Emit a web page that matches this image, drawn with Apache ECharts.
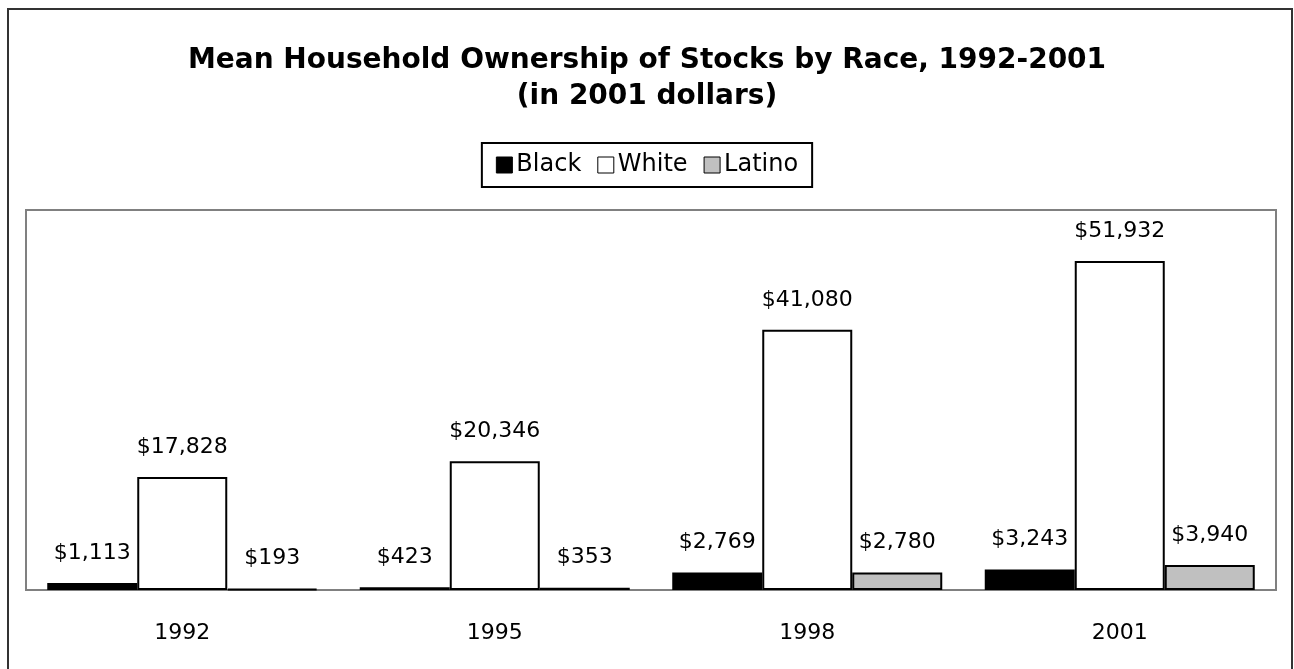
<!DOCTYPE html>
<html>
<head>
<meta charset="utf-8">
<script src="https://cdn.jsdelivr.net/npm/echarts@6/dist/echarts.min.js"></script>
<style>
html,body{margin:0;padding:0;background:#fff;}
#chart{width:1294px;height:669px;}
</style>
</head>
<body>
<div id="chart"></div>
<script>
var categories = ['1992', '1995', '1998', '2001'];
var black = [1113, 423, 2769, 3243];
var white = [17828, 20346, 41080, 51932];
var latino = [193, 353, 2780, 3940];
var seriesNames = ['Black', 'White', 'Latino'];
var titleLines = ['Mean Household Ownership of Stocks by Race, 1992-2001', '(in 2001 dollars)'];

var FONT = 'DejaVu Sans';
function fmt(v){ return '$' + v.toLocaleString('en-US'); }
function mk(name, data, color){
  return {
    name: name, type: 'bar', data: data,
    barGap: '0%', barCategoryGap: '13.6%',
    itemStyle: {color: color, borderColor: '#000', borderWidth: 2},
    label: {show: true, position: 'top', distance: 19, color: '#000',
      fontFamily: FONT, fontSize: 22, formatter: function(p){ return fmt(p.value); }},
    emphasis: {disabled: true}
  };
}
var chart = echarts.init(document.getElementById('chart'));
chart.setOption({
  animation: false,
  backgroundColor: '#fff',
  title: {
    text: titleLines.join('\n'), left: 'center', top: 38,
    textStyle: {fontFamily: FONT, fontWeight: 'bold', fontSize: 28, lineHeight: 36, color: '#000'}
  },
  legend: {
    data: seriesNames, top: 143, left: 'center',
    borderColor: '#000', borderWidth: 2, padding: [10, 14],
    icon: 'rect', itemWidth: 16, itemHeight: 16, itemGap: 16,
    itemStyle: {borderColor: '#000', borderWidth: 1},
    textStyle: {fontFamily: FONT, fontSize: 24, color: '#000', padding: [0,0,0,-1]},
    selectedMode: false
  },
  grid: {left: 26, right: 18, top: 210, bottom: 79, show: true, borderColor: '#808080', borderWidth: 2, containLabel: false},
  xAxis: {
    type: 'category', data: categories,
    axisLine: {show: true, lineStyle: {color: '#808080', width: 2}},
    axisTick: {show: false},
    axisLabel: {fontFamily: FONT, fontSize: 22, color: '#000', margin: 32}
  },
  yAxis: {type: 'value', min: 0, max: 60000, show: false, splitLine: {show: false}},
  graphic: [{type: 'rect', shape: {x: 8, y: 9, width: 1284, height: 700}, style: {fill: 'none', stroke: '#333', lineWidth: 2}, silent: true, z: 100}],
  series: [mk(seriesNames[0], black, '#000'), mk(seriesNames[1], white, '#fff'), mk(seriesNames[2], latino, '#c0c0c0')]
});
</script>
</body>
</html>
